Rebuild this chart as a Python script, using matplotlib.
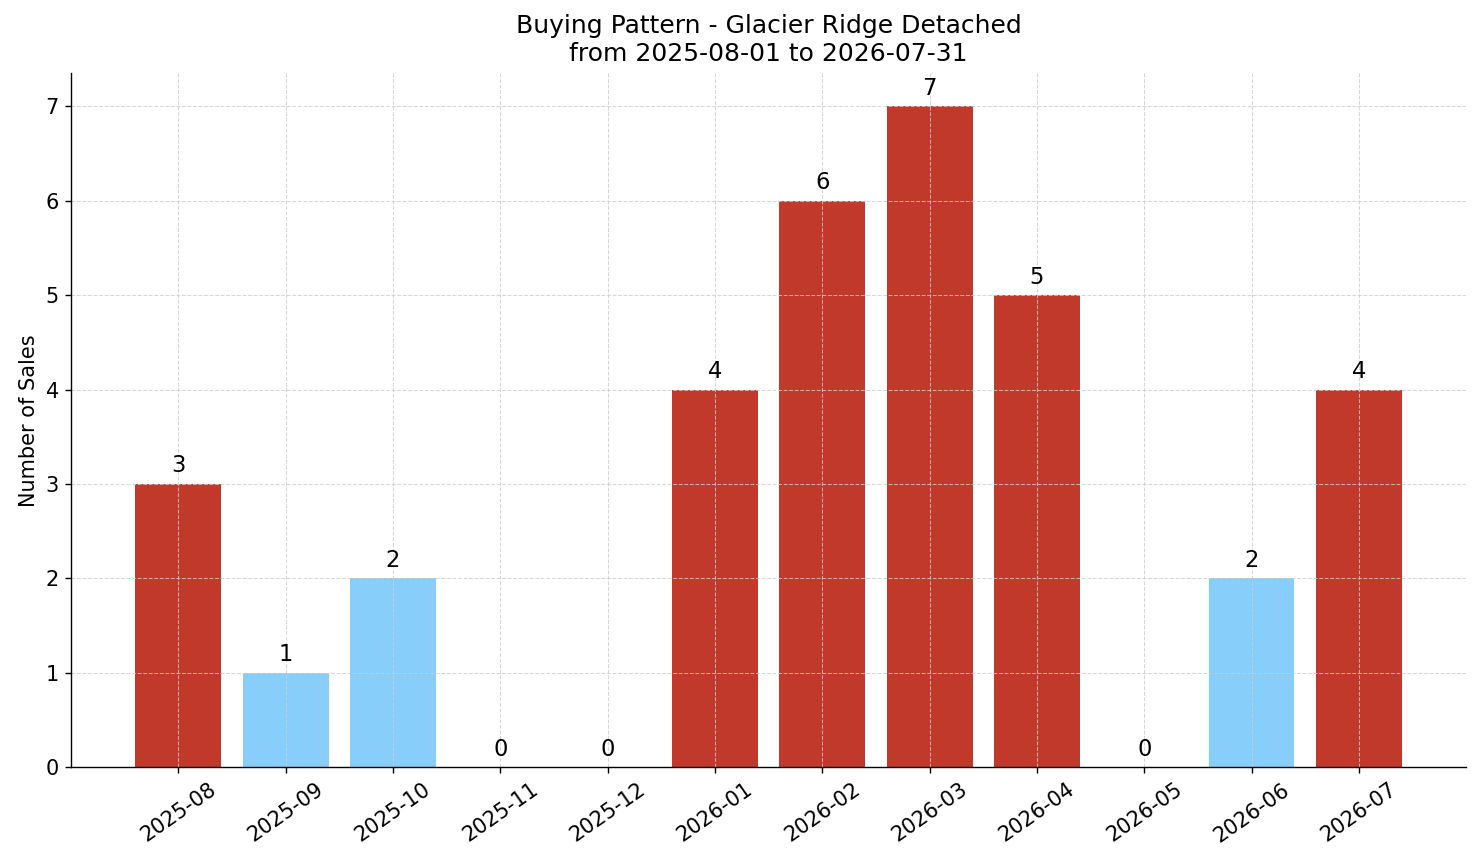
import matplotlib
matplotlib.use('Agg')
from matplotlib import pyplot as plt

## Data section
months = ['2025-08', '2025-09', '2025-10', '2025-11', '2025-12', '2026-01',
          '2026-02', '2026-03', '2026-04', '2026-05', '2026-06', '2026-07']
sales = [3, 1, 2, 0, 0, 4, 6, 7, 5, 0, 2, 4]
title = 'Buying Pattern - Glacier Ridge Detached\nfrom 2025-08-01 to 2026-07-31'
ylabel = 'Number of Sales'

## Config section
high_color = '#c0392b'
low_color = '#87cefa'
threshold = 3
fontsize = 12
dpi = 125

## Plot section
fig = plt.figure(figsize=(1481 / dpi, 863 / dpi), dpi=dpi)
ax = fig.add_axes([0.048, 0.111, 0.942, 0.804])

x = list(range(len(months)))
colors = [high_color if v >= threshold else low_color for v in sales]
bars = ax.bar(x, sales, width=0.8, color=colors)

for xi, v in zip(x, sales):
    ax.text(xi, v + 0.07, str(v), ha='center', va='bottom', fontsize=fontsize + 1)

ax.set_xticks(x)
ax.set_xticklabels(months, rotation=35, fontsize=fontsize)
ax.tick_params(axis='y', labelsize=fontsize)
ax.set_xlim(-1, 12)
ax.set_ylim(0, 7.35)
ax.set_ylabel(ylabel, fontsize=fontsize)
ax.set_title(title, fontsize=fontsize + 2.4, pad=7)
ax.grid(True, linestyle='--', color='#cccccc', linewidth=0.6, alpha=0.8)
ax.spines['top'].set_visible(False)
ax.spines['right'].set_visible(False)

fig.savefig('out.png', dpi=dpi)
plt.close()
